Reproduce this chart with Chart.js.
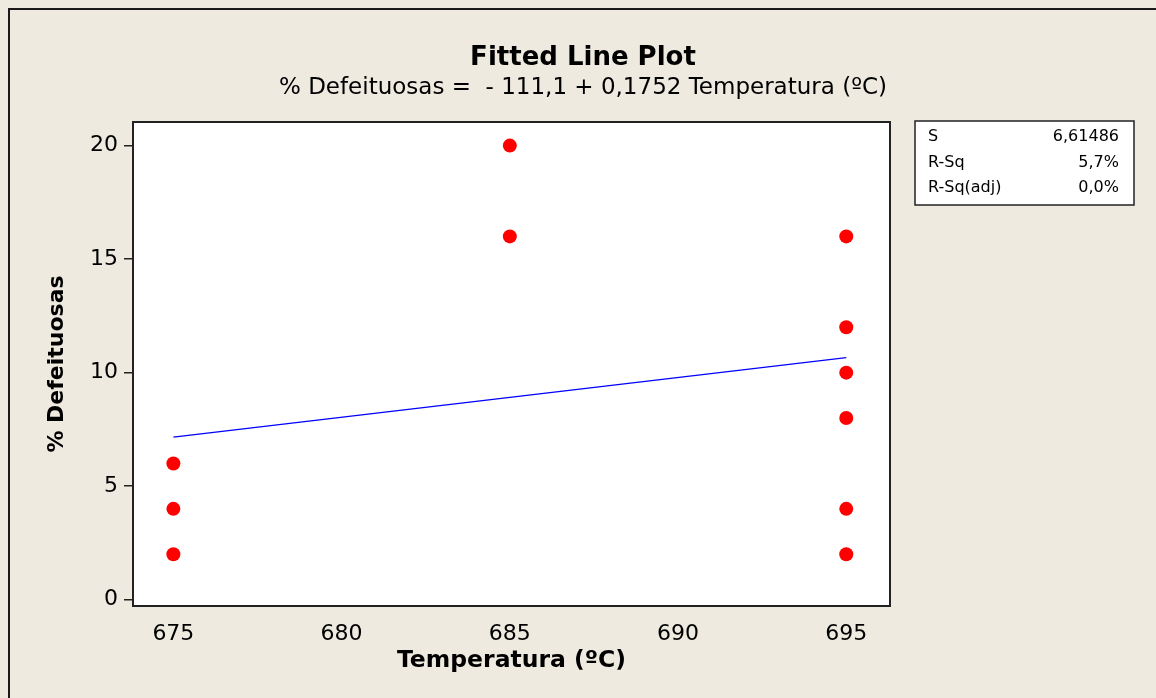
<!DOCTYPE html>
<html>
<head>
<meta charset="utf-8">
<script src="https://cdn.jsdelivr.net/npm/chart.js@4.4.1/dist/chart.umd.min.js"></script>
<style>
  html, body { margin: 0; padding: 0; background: #eeeae0; overflow: hidden; }
  canvas { display: block; }
</style>
</head>
<body>
<canvas id="fitChart" width="1156" height="698"></canvas>
<script>
// dados
const temp675 = [675, 675, 675];
const def675 = [2, 4, 6];
const temp685 = [685, 685];
const def685 = [16, 20];
const temp695 = [695, 695, 695, 695, 695, 695];
const def695 = [2, 4, 8, 10, 12, 16];
const fitX = [675, 695];
const fitY = [7.16, 10.66];
const xTicks = [675, 680, 685, 690, 695];
const yTicks = [0, 5, 10, 15, 20];
const statLabels = ['S', 'R-Sq', 'R-Sq(adj)'];
const statValues = ['6,61486', '5,7%', '0,0%'];

const FONT = "Tahoma, 'DejaVu Sans', sans-serif";

const pontos = [];
[[temp675, def675], [temp685, def685], [temp695, def695]].forEach(function (par) {
    par[0].forEach(function (x, i) { pontos.push({ x: x, y: par[1][i] }); });
});
const linha = fitX.map(function (x, i) { return { x: x, y: fitY[i] }; });

// fundo, moldura e caixa de estatísticas
const moldura = {
    id: 'moldura',
    beforeDraw(chart) {
        const ctx = chart.ctx;
        const a = chart.chartArea;
        ctx.save();
        ctx.fillStyle = '#eeeae0';
        ctx.fillRect(0, 0, chart.width, chart.height);
        ctx.strokeStyle = '#1a1a1a';
        ctx.lineWidth = 2;
        ctx.beginPath();
        ctx.moveTo(9, chart.height);
        ctx.lineTo(9, 9);
        ctx.lineTo(chart.width, 9);
        ctx.stroke();
        ctx.fillStyle = '#ffffff';
        ctx.fillRect(a.left, a.top, a.right - a.left, a.bottom - a.top);
        ctx.restore();
    },
    beforeDatasetsDraw(chart) {
        const ctx = chart.ctx;
        const a = chart.chartArea;
        ctx.save();
        ctx.strokeStyle = '#222222';
        ctx.lineWidth = 2;
        ctx.strokeRect(a.left, a.top, a.right - a.left, a.bottom - a.top);
        ctx.restore();
    },
    afterDraw(chart) {
        const ctx = chart.ctx;
        ctx.save();
        ctx.fillStyle = '#ffffff';
        ctx.fillRect(915, 121, 219, 84);
        ctx.strokeStyle = '#222222';
        ctx.lineWidth = 1.5;
        ctx.strokeRect(915, 121, 219, 84);
        ctx.fillStyle = '#000000';
        ctx.font = '16px ' + FONT;
        ctx.textBaseline = 'middle';
        statLabels.forEach(function (t, i) {
            const y = 137 + i * 25.5;
            ctx.textAlign = 'left';
            ctx.fillText(t, 928, y);
            ctx.textAlign = 'right';
            ctx.fillText(statValues[i], 1119, y);
        });
        ctx.restore();
    }
};

new Chart(document.getElementById('fitChart'), {
    type: 'scatter',
    data: {
        datasets: [
            {
                label: 'Fit',
                type: 'line',
                data: linha,
                borderColor: '#0000ff',
                borderWidth: 1.3,
                pointRadius: 0,
                fill: false,
                order: 2
            },
            {
                label: '% Defeituosas',
                data: pontos,
                backgroundColor: '#ff0000',
                borderWidth: 0,
                pointRadius: 7,
                order: 1
            }
        ]
    },
    options: {
        responsive: false,
        animation: false,
        layout: { padding: { left: 10, right: 0, top: 0, bottom: 0 } },
        plugins: {
            legend: { display: false },
            tooltip: { enabled: false },
            title: {
                display: true,
                text: 'Fitted Line Plot',
                color: '#000000',
                font: { family: FONT, size: 26, weight: 'bold' },
                padding: { top: 42.5, bottom: 0 }
            },
            subtitle: {
                display: true,
                text: '% Defeituosas =  - 111,1 + 0,1752 Temperatura (ºC)',
                color: '#000000',
                font: { family: FONT, size: 23 },
                padding: { top: 0.5, bottom: 20.2 }
            }
        },
        scales: {
            x: {
                type: 'linear',
                min: 673.8,
                max: 696.3,
                afterFit(scale) { scale.height = 92; },
                afterBuildTicks(scale) { scale.ticks = xTicks.map(function (v) { return { value: v }; }); },
                grid: { display: false, drawOnChartArea: false, drawTicks: true, tickLength: 7, color: '#222222' },
                border: { display: false },
                ticks: { color: '#000000', font: { family: FONT, size: 22 }, padding: 8, maxRotation: 0 },
                title: {
                    display: true,
                    text: 'Temperatura (ºC)',
                    color: '#000000',
                    font: { family: FONT, size: 23.5, weight: 'bold' },
                    padding: { top: 0, bottom: 23 }
                }
            },
            y: {
                type: 'linear',
                min: -0.28,
                max: 21.04,
                afterFit(scale) { scale.width = 123; },
                afterBuildTicks(scale) { scale.ticks = yTicks.map(function (v) { return { value: v }; }); },
                grid: { display: true, drawOnChartArea: false, drawTicks: true, tickLength: 9, color: '#222222', lineWidth: 1.5 },
                border: { display: false },
                ticks: { color: '#000000', font: { family: FONT, size: 22 }, padding: 6 },
                title: {
                    display: true,
                    text: '% Defeituosas',
                    color: '#000000',
                    font: { family: FONT, size: 22, weight: 'bold' },
                    padding: { top: 33.8, bottom: 0 }
                }
            },
            direita: {
                type: 'linear',
                position: 'right',
                display: true,
                afterFit(scale) { scale.width = 266; },
                grid: { display: false },
                border: { display: false },
                ticks: { display: false }
            }
        }
    },
    plugins: [moldura]
});
</script>
</body>
</html>
